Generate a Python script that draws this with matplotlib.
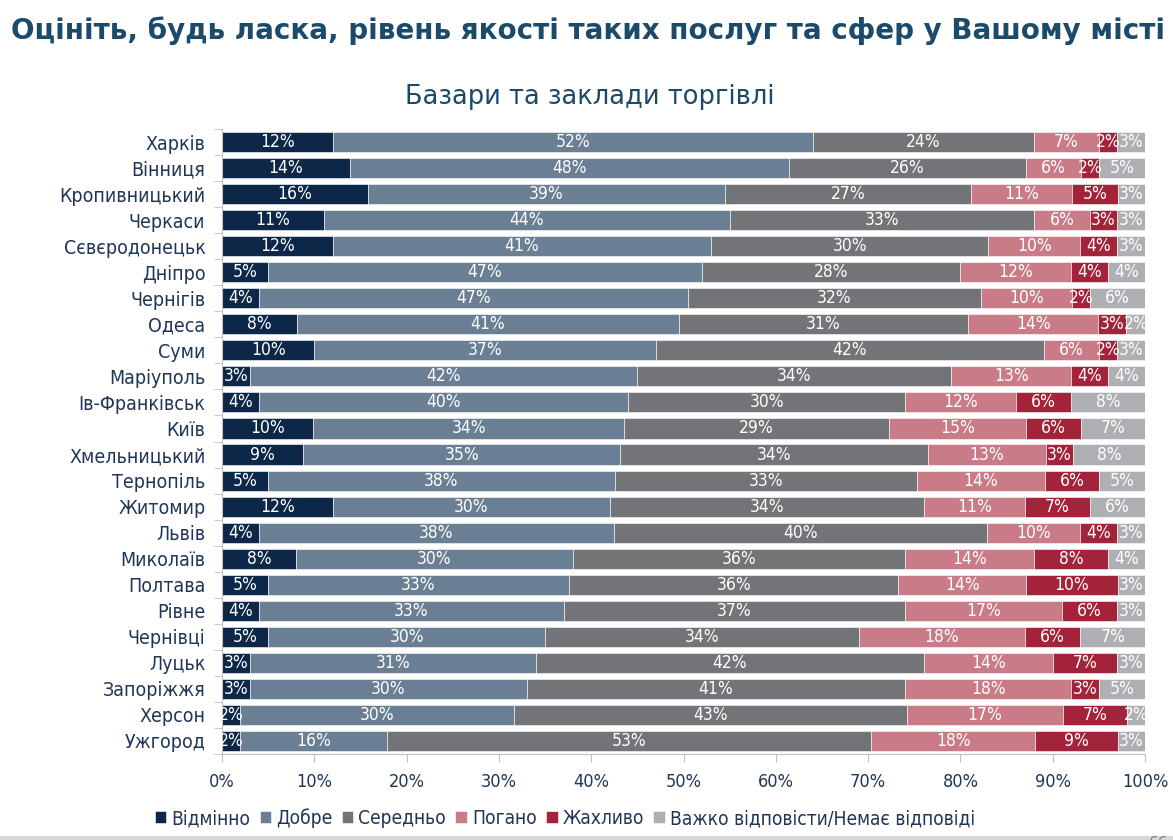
import matplotlib
matplotlib.use("Agg")
import matplotlib.pyplot as plt
import numpy as np
from matplotlib.ticker import FixedLocator, PercentFormatter

TITLE = "Оцініть, будь ласка, рівень якості таких послуг та сфер у Вашому місті"
SUBTITLE = "Базари та заклади торгівлі"

cities = ["Харків", "Вінниця", "Кропивницький", "Черкаси", "Сєвєродонецьк",
          "Дніпро", "Чернігів", "Одеса", "Суми", "Маріуполь", "Ів-Франківськ",
          "Київ", "Хмельницький", "Тернопіль", "Житомир", "Львів", "Миколаїв",
          "Полтава", "Рівне", "Чернівці", "Луцьк", "Запоріжжя", "Херсон",
          "Ужгород"]

categories = ["Відмінно", "Добре", "Середньо", "Погано", "Жахливо",
              "Важко відповісти/Немає відповіді"]

excellent = [12, 14, 16, 11, 12, 5, 4, 8, 10, 3, 4, 10, 9, 5, 12, 4, 8, 5, 4, 5, 3, 3, 2, 2]
good = [52, 48, 39, 44, 41, 47, 47, 41, 37, 42, 40, 34, 35, 38, 30, 38, 30, 33, 33, 30, 31, 30, 30, 16]
average = [24, 26, 27, 33, 30, 28, 32, 31, 42, 34, 30, 29, 34, 33, 34, 40, 36, 36, 37, 34, 42, 41, 43, 53]
bad = [7, 6, 11, 6, 10, 12, 10, 14, 6, 13, 12, 15, 13, 14, 11, 10, 14, 14, 17, 18, 14, 18, 17, 18]
terrible = [2, 2, 5, 3, 4, 4, 2, 3, 2, 4, 6, 6, 3, 6, 7, 4, 8, 10, 6, 6, 7, 3, 7, 9]
no_answer = [3, 5, 3, 3, 3, 4, 6, 2, 3, 4, 8, 7, 8, 5, 6, 3, 4, 3, 3, 7, 3, 5, 2, 3]

colors = ["#0c2747", "#6a7f93", "#737478", "#c97c87", "#a3233a", "#aeafb3"]

TEXT = "#1b4a6b"
LABEL = "#1f3656"
NARROW = dict(family="DejaVu Sans", stretch="condensed")

series = np.array([excellent, good, average, bad, terrible, no_answer], dtype=float)
# bars are drawn as shares of 100%
shares = series / series.sum(axis=0) * 100

fig = plt.figure(figsize=(11.73, 8.4), dpi=100)
ax = fig.add_axes([0.1893, 0.1024, 0.7869, 0.744])

y = np.arange(len(cities))
left = np.zeros(len(cities))
for i, cat in enumerate(categories):
    ax.barh(y, shares[i], left=left, height=0.77, color=colors[i],
            edgecolor="white", linewidth=0.4, label=cat)
    for j in range(len(cities)):
        ax.text(left[j] + shares[i][j] / 2, y[j], f"{int(series[i][j])}%",
                ha="center", va="center", color="white", fontsize=12.5,
                **NARROW)
    left += shares[i]

ax.set_xlim(0, 100)
ax.set_ylim(len(cities) - 0.5, -0.5)
ax.set_yticks(y)
ax.set_yticklabels(cities, fontsize=14, color=LABEL, **NARROW)
ax.yaxis.set_minor_locator(FixedLocator(np.arange(-0.5, len(cities), 1)))
ax.tick_params(axis="y", which="major", length=0, pad=12)
ax.tick_params(axis="y", which="minor", length=6, color="#bfbfbf")
ax.set_xticks(np.arange(0, 101, 10))
ax.xaxis.set_major_formatter(PercentFormatter(decimals=0))
ax.tick_params(axis="x", length=6, color="#bfbfbf", labelsize=13,
               labelcolor=LABEL, pad=8)
for lab in ax.get_xticklabels():
    lab.set_family("DejaVu Sans")
    lab.set_stretch("condensed")
for s in ["top", "right"]:
    ax.spines[s].set_visible(False)
for s in ["left", "bottom"]:
    ax.spines[s].set_color("#bfbfbf")

fig.text(0.009, 0.963, TITLE, fontsize=20, fontweight="bold", color=TEXT,
         va="center", ha="left")
fig.text(0.503, 0.884, SUBTITLE, fontsize=18.5, color=TEXT, va="center",
         ha="center")

fig.legend(loc="center left", bbox_to_anchor=(0.132, 0.026), ncol=6,
           frameon=False, borderpad=0, borderaxespad=0,
           handlelength=0.6, handleheight=0.6,
           handletextpad=0.25, columnspacing=0.5,
           prop=dict(size=13.8, **NARROW), labelcolor=LABEL)

fig.add_artist(plt.Line2D([0, 1], [0.002, 0.002], color="#d9d9d9", lw=3))
fig.text(0.988, -0.004, "66", fontsize=11, color="#808080", ha="center",
         va="center")

fig.savefig("out.png", dpi=100)
